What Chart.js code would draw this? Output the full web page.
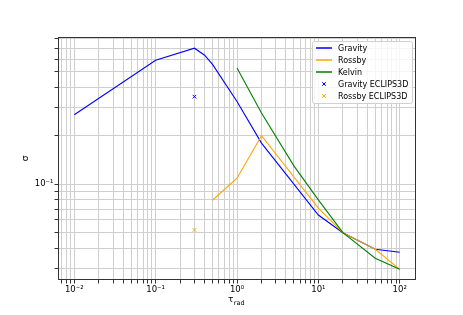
<!DOCTYPE html>
<html>
<head>
<meta charset="utf-8">
<script src="https://cdn.jsdelivr.net/npm/chart.js@4"></script>
<style>
  html, body { margin: 0; padding: 0; background: #fff; }
  #wrap { width: 463px; height: 315px; }
</style>
</head>
<body>
<div id="wrap"><canvas id="sigmaChart" width="463" height="315"></canvas></div>
<script>
// tau_rad values and growth rates
const gravityTau = [0.01, 0.1, 0.3, 0.4, 0.5, 1, 2, 10, 20, 50, 100];
const gravitySigma = [0.27, 0.59, 0.70, 0.633, 0.556, 0.327, 0.18, 0.0644, 0.05, 0.0394, 0.0378];

const rossbyTau = [0.5, 1, 2, 10, 20, 50, 100];
const rossbySigma = [0.0795, 0.109, 0.2, 0.071, 0.05, 0.0394, 0.0296];

const kelvinTau = [1, 2, 5, 10, 20, 50, 100];
const kelvinSigma = [0.527, 0.277, 0.13, 0.08, 0.05, 0.0347, 0.0296];

const gravityEclTau = [0.3];
const gravityEclSigma = [0.35];
const rossbyEclTau = [0.3];
const rossbyEclSigma = [0.052];

const xTickValues = [0.01, 0.1, 1, 10, 100];
const xTickLabels = ["10⁻²", "10⁻¹", "10⁰", "10¹", "10²"];
const yTickValues = [0.1];
const yTickLabels = ["10⁻¹"];

const FONT = "DejaVu Sans";

const toPoints = (xs, ys) => xs.map((x, i) => ({ x: x, y: ys[i] }));

// every 1..9 x 10^n inside the axis range, so the grid shows minor lines too
const logGridTicks = (min, max) => {
  let out = [];
  for (let e = Math.floor(Math.log10(min)); e <= Math.ceil(Math.log10(max)); e++) {
    for (let m = 1; m <= 9; m++) {
      const v = m * Math.pow(10, e);
      if (v >= min && v <= max) out.push({ value: v });
    }
  }
  return out;
};

const labelFor = (values, labels) => (v) => {
  const i = values.findIndex((t) => Math.abs(t - v) / t < 1e-6);
  return i >= 0 ? labels[i] : "";
};

const lineSet = (label, xs, ys, color, order) => ({
  label: label,
  data: toPoints(xs, ys),
  borderColor: color,
  backgroundColor: color,
  borderWidth: 1.1,
  pointRadius: 0,
  tension: 0,
  order: order,
});

const markerSet = (label, xs, ys, color, order) => ({
  label: label,
  data: toPoints(xs, ys),
  borderColor: color,
  backgroundColor: color,
  showLine: false,
  pointStyle: "crossRot",
  pointRadius: 2.5,
  borderWidth: 1,
  order: order,
});

const frameAndLabels = {
  id: "frameAndLabels",
  afterDraw(chart) {
    const { ctx, chartArea: a } = chart;
    ctx.save();
    ctx.strokeStyle = "#333";
    ctx.lineWidth = 1;
    ctx.strokeRect(Math.round(a.left) + 0.5, Math.round(a.top) + 0.5,
      Math.round(a.right - a.left) - 1, Math.round(a.bottom - a.top) - 1);

    // x label: tau with subscript "rad"
    ctx.fillStyle = "#000";
    ctx.textBaseline = "alphabetic";
    ctx.font = `9px "${FONT}"`;
    const wT = ctx.measureText("τ").width;
    ctx.font = `6.5px "${FONT}"`;
    const wR = ctx.measureText("rad").width;
    const cx = (a.left + a.right) / 2 - 1;
    const x0 = cx - (wT + wR) / 2;
    ctx.font = `9px "${FONT}"`;
    ctx.fillText("τ", x0, 302);
    ctx.font = `6.5px "${FONT}"`;
    ctx.fillText("rad", x0 + wT + 0.5, 305);

    // y label
    ctx.font = `9px "${FONT}"`;
    ctx.translate(28, (a.top + a.bottom) / 2);
    ctx.rotate(-Math.PI / 2);
    ctx.textAlign = "center";
    ctx.fillText("σ", 0, 0);
    ctx.restore();

    // legend, upper right inside the axes
    const items = chart.data.datasets;
    const bw = 100, rowH = 12;
    const bh = items.length * rowH + 2;
    const bx = a.right - 4 - bw, by = a.top + 4;
    ctx.save();
    ctx.fillStyle = "rgba(255,255,255,0.8)";
    ctx.strokeStyle = "#d0d0d0";
    ctx.lineWidth = 1;
    ctx.beginPath();
    ctx.roundRect(bx + 0.5, by + 0.5, bw, bh, 2);
    ctx.fill();
    ctx.stroke();
    ctx.font = `8px "${FONT}"`;
    ctx.textBaseline = "middle";
    items.forEach((ds, i) => {
      const y = by + 7 + i * rowH;
      ctx.strokeStyle = ds.borderColor;
      if (ds.showLine === false) {
        const mx = bx + 12, r = 1.8;
        ctx.lineWidth = 1;
        ctx.beginPath();
        ctx.moveTo(mx - r, y - r); ctx.lineTo(mx + r, y + r);
        ctx.moveTo(mx - r, y + r); ctx.lineTo(mx + r, y - r);
        ctx.stroke();
      } else {
        ctx.lineWidth = 1.5;
        ctx.beginPath();
        ctx.moveTo(bx + 4, y); ctx.lineTo(bx + 20, y);
        ctx.stroke();
      }
      ctx.fillStyle = "#000";
      ctx.fillText(ds.label, bx + 26, y + 0.5);
    });
    ctx.restore();
  },
};

const gridStyle = {
  color: "#cfcfcf",
  lineWidth: 1,
  tickColor: "#333",
  tickLength: 3.5,
};

new Chart(document.getElementById("sigmaChart").getContext("2d"), {
  type: "line",
  data: {
    datasets: [
      lineSet("Gravity", gravityTau, gravitySigma, "#0000ff", 5),
      lineSet("Rossby", rossbyTau, rossbySigma, "#ffa500", 4),
      lineSet("Kelvin", kelvinTau, kelvinSigma, "#008000", 3),
      markerSet("Gravity ECLIPS3D", gravityEclTau, gravityEclSigma, "#0000ff", 2),
      markerSet("Rossby ECLIPS3D", rossbyEclTau, rossbyEclSigma, "#ffa500", 1),
    ],
  },
  options: {
    responsive: false,
    animation: false,
    devicePixelRatio: 1,
    layout: { padding: { left: 0, right: 47, top: 37, bottom: 0 } },
    plugins: { legend: { display: false }, tooltip: { enabled: false } },
    scales: {
      x: {
        type: "logarithmic",
        min: Math.pow(10, -2.2),
        max: Math.pow(10, 2.2),
        afterBuildTicks: (s) => { s.ticks = logGridTicks(s.min, s.max); },
        afterFit: (s) => { s.height = 35; },
        grid: gridStyle,
        border: { display: false },
        ticks: {
          autoSkip: false,
          maxRotation: 0,
          padding: 1,
          color: "#000",
          font: { family: FONT, size: 8.5 },
          callback: labelFor(xTickValues, xTickLabels),
        },
      },
      y: {
        type: "logarithmic",
        min: 0.0254,
        max: 0.822,
        afterBuildTicks: (s) => { s.ticks = logGridTicks(s.min, s.max); },
        afterFit: (s) => { s.width = 58; },
        grid: gridStyle,
        border: { display: false },
        ticks: {
          autoSkip: false,
          padding: 1,
          color: "#000",
          font: { family: FONT, size: 8.5 },
          callback: labelFor(yTickValues, yTickLabels),
        },
      },
    },
  },
  plugins: [frameAndLabels],
});
</script>
</body>
</html>
